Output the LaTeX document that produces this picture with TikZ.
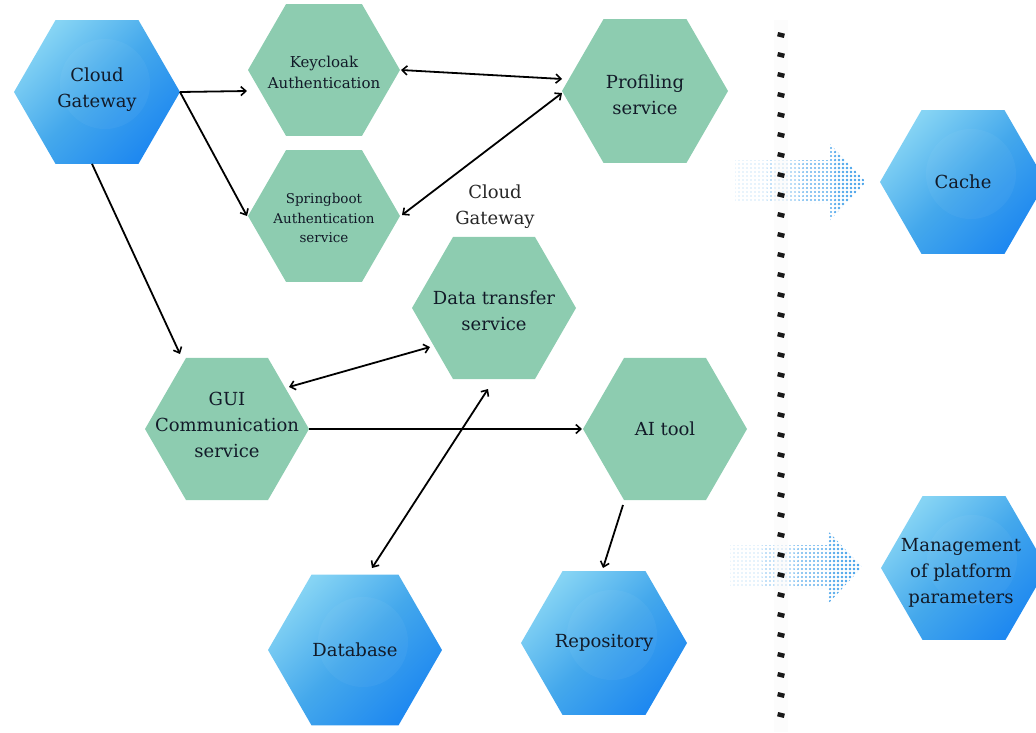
\documentclass[tikz,border=0pt]{standalone}
\usepackage{fontspec}
\setmainfont{DejaVu Serif}
\usetikzlibrary{shapes.geometric,arrows.meta,calc}
\definecolor{hgreen}{HTML}{8DCCB0}
\definecolor{blight}{HTML}{86D4F4}
\definecolor{bmid}{HTML}{44A8EC}
\definecolor{bdark}{HTML}{1E88F0}
\definecolor{txtc}{HTML}{121A28}
\definecolor{dotc}{HTML}{3A9CE8}
\begin{document}
\begin{tikzpicture}[x=1pt,y=-1pt,
  hex/.style={regular polygon, regular polygon sides=6, inner sep=0pt, outer sep=0pt, draw=none},
  hexg/.style={hex, fill=hgreen},
  hexb/.style={hex, top color=blight, bottom color=bdark, middle color=bmid, shading angle=45,
     path picture={\fill[white,opacity=0.04] ($(path picture bounding box.center)+(8,-8)$) circle[radius=45pt];}},
  txt/.style={align=center, text=txtc, font=\fontsize{18}{26}\selectfont, inner sep=0pt},
  tip/.tip={Straight Barb[length=5pt,width=9pt,line width=1.6pt]},
  conn/.style={line width=1.8pt, -tip},
  bconn/.style={line width=1.8pt, tip-tip}
]
\useasboundingbox (0,0) rectangle (1036,732);

% halftone arrows
\begin{scope}
\clip (735,160) -- (830,160) -- (830,144) -- (866,182) -- (830,220) -- (830,203) -- (735,203) -- cycle;
\foreach \i in {0,...,33}{
  \pgfmathsetmacro\r{0.5+1.0*\i/33}
  \pgfmathsetmacro\op{0.45+0.55*\i/33}
  \foreach \j in {0,...,19}{
    \fill[dotc, fill opacity=\op] (735+4*\i, 144+4*\j) circle[radius=\r pt];
  }
}
\end{scope}
\begin{scope}
\clip (730,545) -- (827,545) -- (827,530) -- (862,567) -- (827,605) -- (827,588) -- (730,588) -- cycle;
\foreach \i in {0,...,33}{
  \pgfmathsetmacro\r{0.5+1.0*\i/33}
  \pgfmathsetmacro\op{0.45+0.55*\i/33}
  \foreach \j in {0,...,19}{
    \fill[dotc, fill opacity=\op] (730+4*\i, 529+4*\j) circle[radius=\r pt];
  }
}
\end{scope}

% separator
\fill[gray!4, fill opacity=0.6] (774,20) rectangle (788,732);
\foreach \k in {0,...,34}{
  \pgfmathsetmacro\yy{35+20*\k}
  \fill[black!90, rotate around={-14:(781,\yy)}] (777.5,\yy-2.2) rectangle (784.5,\yy+2.2);
}

% hexagons
\node[hexb, minimum size=166pt] (cg) at (97,92) {};
\node[txt] (cg-t) at (97,90) {Cloud\\Gateway};

\node[hexg, minimum size=152pt] (kc) at (324,70) {};
\node[txt, font=\fontsize{15}{21}\selectfont] (kc-t) at (324,72) {Keycloak\\Authentication};

\node[hexg, minimum size=152pt] (sb) at (324,216) {};
\node[txt, font=\fontsize{13.5}{19.5}\selectfont] (sb-t) at (324,218) {Springboot\\Authentication\\service};

\node[hexg, minimum size=166pt] (pf) at (645,91) {};
\node[txt] (pf-t) at (645,95) {Profiling\\service};

\node[txt, text=black!85] (cgl) at (495,207) {Cloud\\Gateway};

\node[hexg, minimum size=164pt] (dt) at (494,308) {};
\node[txt] (dt-t) at (494,311) {Data transfer\\service};

\node[hexg, minimum size=164pt] (gui) at (227,429) {};
\node[txt] (gui-t) at (227,425) {GUI\\Communication\\service};

\node[hexg, minimum size=164pt] (ai) at (665,429) {};
\node[txt] (ai-t) at (665,429) {AI tool};

\node[hexb, minimum size=174pt] (db) at (355,650) {};
\node[txt] (db-t) at (355,650) {Database};

\node[hexb, minimum size=166pt] (rp) at (604,643) {};
\node[txt] (rp-t) at (604,643) {Repository};

\node[hexb, minimum size=166pt] (ca) at (963,182) {};
\node[txt] (ca-t) at (963,182) {Cache};

\node[hexb, minimum size=166pt] (mg) at (964,568) {};
\node[txt] (mg-t) at (961,573) {Management\\of platform\\parameters};

% connectors
\draw[conn] (cg.0) -- ($(kc.180)+(-1,21)$);
\draw[conn] (cg.0) -- ($(sb.180)+(-1,0)$);
\draw[conn] ($(cg.south)+(-5,0)$) -- ($(gui.center)+(-47,-75)$);
\draw[bconn] ($(kc.0)+(1,0)$) -- ($(pf.center)+(-83,-12)$);
\draw[bconn] ($(sb.0)+(2,-1)$) -- ($(pf.center)+(-83,2)$);
\draw[bconn] ($(gui.center)+(62,-42)$) -- ($(dt.center)+(-64,39)$);
\draw[conn] (gui.0) -- ($(ai.180)+(-1,0)$);
\draw[bconn] ($(dt.center)+(-6,81)$) -- ($(db.center)+(17,-82)$);
\draw[conn] ($(ai.center)+(-42,76)$) -- ($(rp.center)+(-1,-75)$);
\end{tikzpicture}
\end{document}
